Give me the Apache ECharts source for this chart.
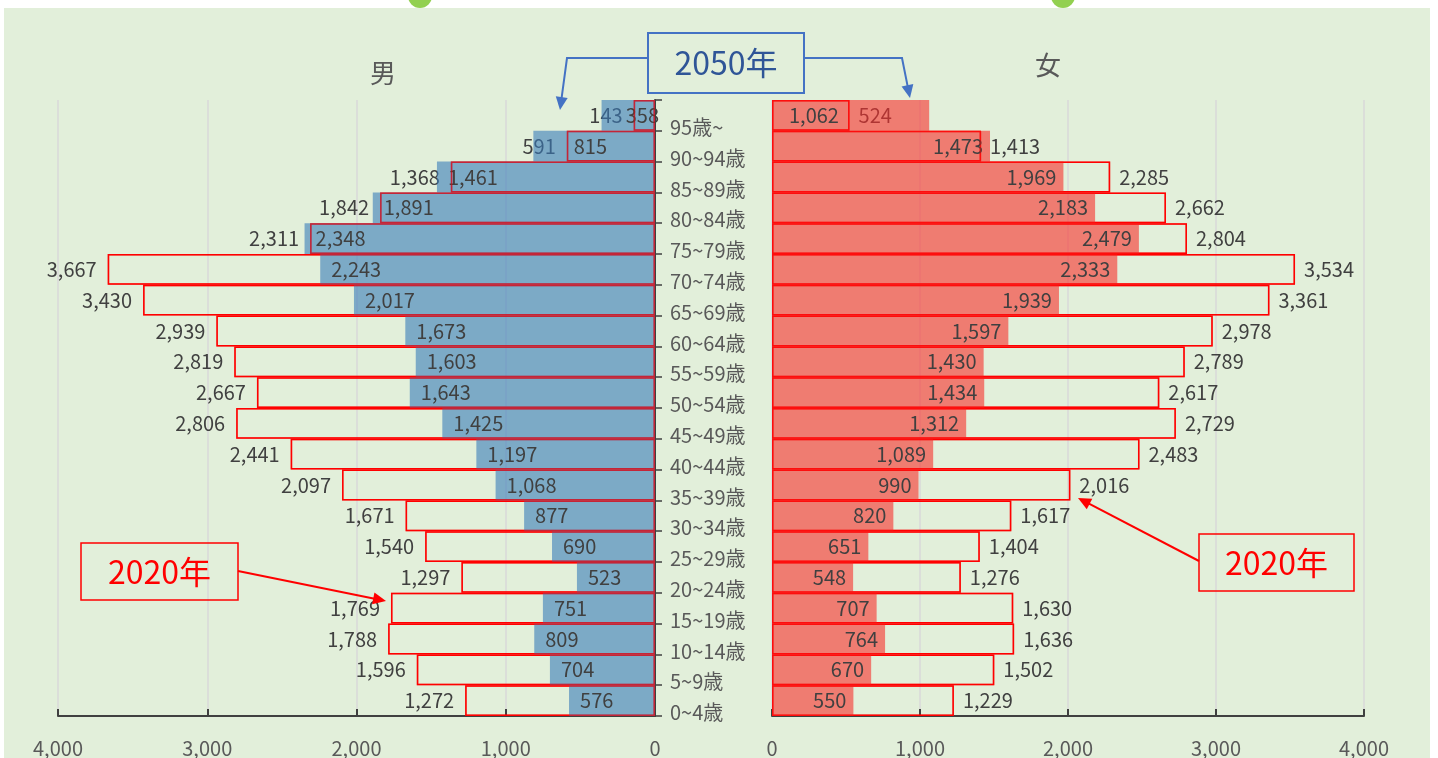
<!DOCTYPE html>
<html>
<head>
<meta charset="utf-8">
<title>人口ピラミッド 2020年・2050年</title>
<script src="https://cdn.jsdelivr.net/npm/echarts@6/dist/echarts.min.js"></script>
<style>
  html, body { margin: 0; padding: 0; background: #ffffff; }
  #chart { width: 1438px; height: 758px; }
</style>
</head>
<body>
<div id="chart"></div>
<script>
// Age groups, youngest first (category axis runs bottom to top)
const ageGroups = ['0~4歳', '5~9歳', '10~14歳', '15~19歳', '20~24歳', '25~29歳', '30~34歳',
  '35~39歳', '40~44歳', '45~49歳', '50~54歳', '55~59歳', '60~64歳', '65~69歳', '70~74歳',
  '75~79歳', '80~84歳', '85~89歳', '90~94歳', '95歳~'];

// Population by age group
const male2020 = [1272, 1596, 1788, 1769, 1297, 1540, 1671, 2097, 2441, 2806, 2667, 2819,
  2939, 3430, 3667, 2311, 1842, 1368, 591, 143];
const male2050 = [576, 704, 809, 751, 523, 690, 877, 1068, 1197, 1425, 1643, 1603,
  1673, 2017, 2243, 2348, 1891, 1461, 815, 358];
const female2020 = [1229, 1502, 1636, 1630, 1276, 1404, 1617, 2016, 2483, 2729, 2617, 2789,
  2978, 3361, 3534, 2804, 2662, 2285, 1413, 524];
const female2050 = [550, 670, 764, 707, 548, 651, 820, 990, 1089, 1312, 1434, 1430,
  1597, 1939, 2333, 2479, 2183, 1969, 1473, 1062];

// Value axis ticks
const axisMax = 4000;
const axisStep = 1000;

const sideTitles = ['男', '女'];
const yearLabels = ['2050年', '2020年'];

const FONT = '"Noto Sans CJK JP", "Noto Sans", sans-serif';
const TEXT_DARK = '#404040';
const TEXT_GRAY = '#595959';
const fmt = v => Number(v).toLocaleString('en-US');

// Hand-placed labels for the narrow top rows
const male2050LabelTweaks = {
  19: { position: 'insideRight', offset: [15, 0] },
  18: { position: 'insideRight', offset: [-37, 0] }
};
const female2050LabelTweaks = {
  19: { position: 'insideLeft', offset: [10, 0] }
};

function withTweaks(values, tweaks) {
  return values.map((v, i) => tweaks[i] ? { value: v, label: tweaks[i] } : v);
}

const valueLabel = (position, distance) => ({
  show: true,
  position: position,
  distance: distance,
  color: TEXT_DARK,
  fontSize: 20,
  fontFamily: FONT,
  formatter: p => fmt(p.value)
});

function valueAxis(gridIndex, inverse) {
  return {
    type: 'value',
    gridIndex: gridIndex,
    inverse: inverse,
    min: 0,
    max: axisMax,
    interval: axisStep,
    axisLine: { show: true, lineStyle: { color: TEXT_DARK, width: 2 } },
    axisTick: { show: true, inside: true, length: 7, lineStyle: { color: TEXT_DARK, width: 2 } },
    splitLine: { show: true, lineStyle: { color: '#d9d9d9', width: 1.5 } },
    axisLabel: { margin: 22, color: TEXT_GRAY, fontSize: 20, fontFamily: FONT, formatter: v => fmt(v) }
  };
}

// 2020: red outline only; 2050: translucent fill laid over it
function sideSeries(axisIdx, data2020, data2050, fillColor, outsidePos, outsideDist, insidePos, insideDist) {
  const common = {
    type: 'bar',
    xAxisIndex: axisIdx,
    yAxisIndex: axisIdx,
    barGap: '-100%',
    barCategoryGap: '0%'
  };
  return [
    Object.assign({}, common, {
      name: '2020年',
      z: 1,
      data: data2020,
      itemStyle: { color: 'rgba(0,0,0,0)', borderColor: '#ff0000', borderWidth: 1.5 },
      label: valueLabel(outsidePos, outsideDist)
    }),
    Object.assign({}, common, {
      name: '2050年',
      z: 2,
      data: data2050,
      itemStyle: { color: fillColor, borderWidth: 0 },
      label: valueLabel(insidePos, insideDist)
    }),
    Object.assign({}, common, {
      name: '2020年 枠',
      z: 3,
      silent: true,
      data: data2020,
      itemStyle: { color: 'rgba(0,0,0,0)', borderColor: 'rgba(255,0,0,0.5)', borderWidth: 1.5 },
      label: { show: false }
    })
  ];
}

// Arrowhead triangle pointing from `from` to `tip`
function arrowGeometry(from, tip, len, half) {
  const dx = tip[0] - from[0], dy = tip[1] - from[1];
  const d = Math.hypot(dx, dy);
  const ux = dx / d, uy = dy / d;
  const bx = tip[0] - ux * len, by = tip[1] - uy * len;
  return {
    head: [tip, [bx - uy * half, by + ux * half], [bx + uy * half, by - ux * half]],
    lineEnd: [tip[0] - ux * len * 0.7, tip[1] - uy * len * 0.7]
  };
}

function callout(box, text, color, textColor, borderWidth, fontSize, leaders) {
  const els = [
    { type: 'rect', shape: box, style: { fill: 'none', stroke: color, lineWidth: borderWidth }, z: 50 },
    { type: 'text', x: box.x + box.width / 2, y: box.y + box.height / 2,
      style: { text: text, fill: textColor, font: fontSize + 'px ' + FONT,
               textAlign: 'center', textVerticalAlign: 'middle' }, z: 50 }
  ];
  leaders.forEach(pts => {
    const tip = pts[pts.length - 1];
    const prev = pts[pts.length - 2];
    const g = arrowGeometry(prev, tip, 13, 6);
    els.push({ type: 'polyline', shape: { points: pts.slice(0, -1).concat([g.lineEnd]) },
               style: { stroke: color, lineWidth: 2, fill: null }, z: 50 });
    els.push({ type: 'polygon', shape: { points: g.head }, style: { fill: color }, z: 50 });
  });
  return els;
}

const chart = echarts.init(document.getElementById('chart'), null, { renderer: 'canvas' });

chart.setOption({
  backgroundColor: '#ffffff',
  animation: false,
  textStyle: { fontFamily: FONT },
  grid: [
    { left: 58, right: 783, top: 100, bottom: 42 },
    { left: 772, right: 74, top: 100, bottom: 42 }
  ],
  xAxis: [valueAxis(0, true), valueAxis(1, false)],
  yAxis: [
    {
      type: 'category',
      gridIndex: 0,
      position: 'right',
      data: ageGroups,
      axisLine: { show: true, lineStyle: { color: TEXT_DARK, width: 2 } },
      axisTick: { show: true, length: 7, lineStyle: { color: TEXT_DARK, width: 1.5 } },
      axisLabel: { margin: 15, color: TEXT_GRAY, fontSize: 20, fontFamily: FONT, verticalAlign: 'top', align: 'left', padding: [2, 0, 0, 0] }
    },
    {
      type: 'category',
      gridIndex: 1,
      data: ageGroups,
      show: false
    }
  ],
  series: [].concat(
    sideSeries(0, male2020, withTweaks(male2050, male2050LabelTweaks), 'rgba(56,124,185,0.6)', 'left', 11, 'insideLeft', 11),
    sideSeries(1, female2020, withTweaks(female2050, female2050LabelTweaks), 'rgba(249,46,43,0.6)', 'right', 9, 'insideRight', 7)
  ),
  graphic: [
    { type: 'rect', shape: { x: 4, y: 8, width: 1426, height: 760 }, style: { fill: '#e2efda' }, z: -100, silent: true },
    { type: 'circle', shape: { cx: 420, cy: -4, r: 12 }, style: { fill: '#92d050' }, z: 60 },
    { type: 'circle', shape: { cx: 1063, cy: -4, r: 12 }, style: { fill: '#92d050' }, z: 60 },
    { type: 'text', x: 383, y: 73, style: { text: sideTitles[0], fill: TEXT_GRAY, font: '26px ' + FONT, textAlign: 'center', textVerticalAlign: 'middle' }, z: 50 },
    { type: 'text', x: 1048, y: 65, style: { text: sideTitles[1], fill: TEXT_GRAY, font: '26px ' + FONT, textAlign: 'center', textVerticalAlign: 'middle' }, z: 50 }
  ].concat(
    callout({ x: 648, y: 33, width: 156, height: 60 }, yearLabels[0], '#4472c4', '#2f5597', 2, 32,
      [[[648, 58], [567, 58], [560, 110]], [[804, 58], [902, 58], [910, 98]]]),
    callout({ x: 81, y: 543, width: 157, height: 57 }, yearLabels[1], '#ff0000', '#ff0000', 1.5, 32,
      [[[238, 571], [386, 601]]]),
    callout({ x: 1199, y: 534, width: 155, height: 57 }, yearLabels[1], '#ff0000', '#ff0000', 1.5, 32,
      [[[1199, 561], [1078, 498]]])
  )
});
</script>
</body>
</html>
